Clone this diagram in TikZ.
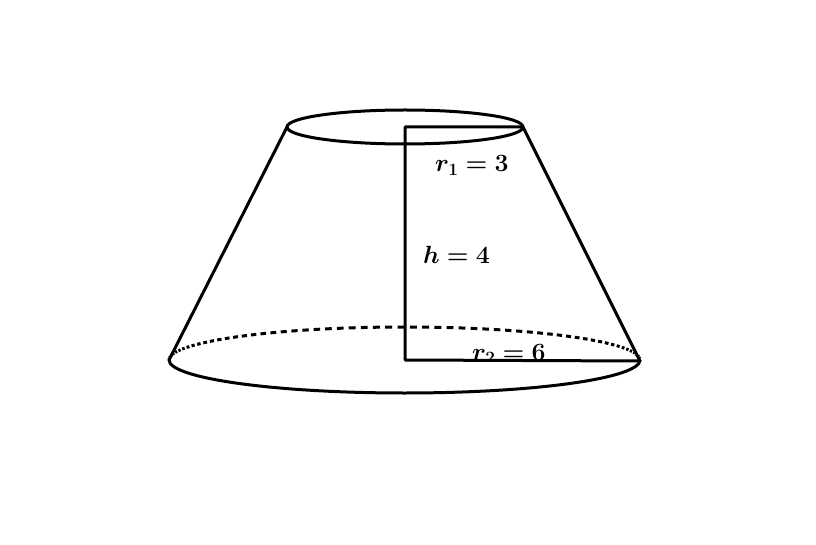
\documentclass[tikz,border=0pt]{standalone}
\usepackage{amsmath}
\thickmuskip=4.5mu
\tikzset{
  px/.style={x=1pt,y=-1pt},
  solidline/.style={line width=3pt,line join=round,line cap=round,black},
  backdash/.style={line width=3pt,black},
  lab/.style={inner sep=0pt,anchor=base west,font=\fontsize{23.4}{28}\selectfont\boldmath}
}
\begin{document}
\begin{tikzpicture}[px]
\useasboundingbox[fill=white] (0,0) rectangle (816,545);
\coordinate (tl) at (287,127);
\coordinate (tr) at (523,127);
\coordinate (tc) at (405,127);
\coordinate (bl) at (169,360);
\coordinate (br) at (640,361);
\coordinate (bc) at (405,360);
% top ellipse
\draw[solidline] (405,127) ellipse [x radius=118,y radius=17];
% bottom front
\draw[solidline] (bl) arc[start angle=180,end angle=0,x radius=235.5,y radius=33];
% bottom back: dashes of equal angle
\foreach \a in {3,6,...,177}{
  \draw[backdash] ({404.5+235.5*cos(\a)},{360-33*sin(\a)}) -- ({404.5+235.5*cos(\a+1.7)},{360-33*sin(\a+1.7)});
}
% sides and radii
\draw[solidline] (tl) -- (bl);
\draw[solidline] (tr) -- (br);
\draw[solidline] (tr) -- (tc) -- (bc) -- (br);
% labels
\node[lab] (r1) at (435,172) {$r_1=3$};
\node[lab] (h) at (423,263) {$h=4$};
\begin{scope}
\clip (440,330) rectangle (600,360);
\node[lab] (r2) at (472,360) {$r_2=6$};
\end{scope}
\end{tikzpicture}
\end{document}
